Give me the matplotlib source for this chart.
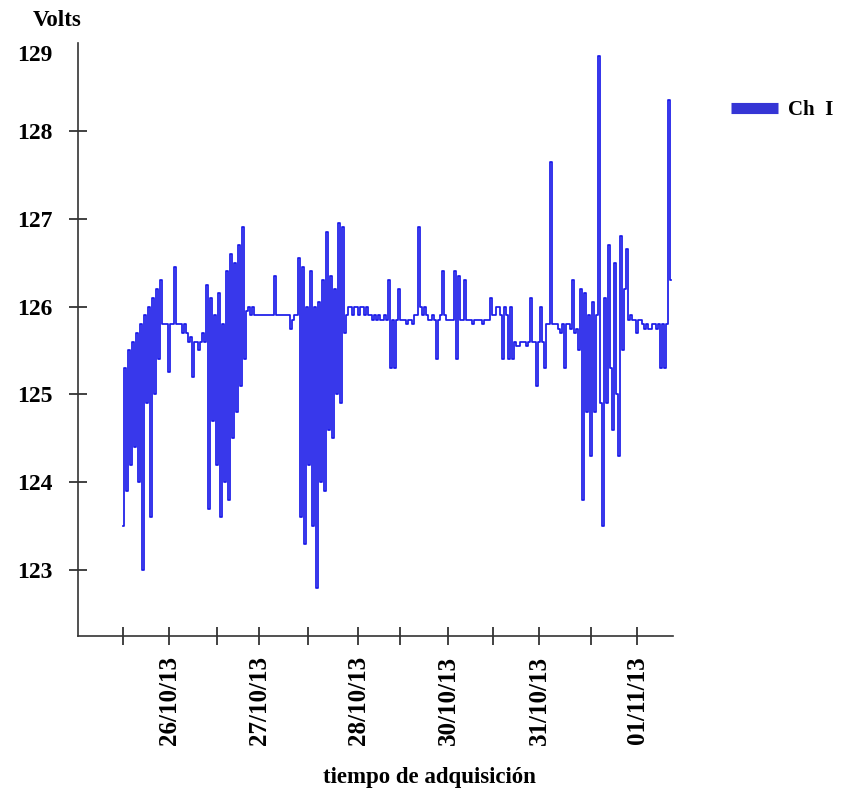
import matplotlib.pyplot as plt
import matplotlib.transforms as mtransforms
import numpy as np
from matplotlib.lines import Line2D

# Voltage readings, Ch I (one sample per ~2 px)
volts_day1 = [123.5, 125.3, 123.9, 125.5, 124.2, 125.6, 124.4, 125.7, 124.0, 125.8,
              123.0, 125.9, 124.9, 126.0, 123.6, 126.1, 125.0, 126.2, 125.4, 126.3]
volts_flat1 = [125.8, 125.8, 125.8, 125.25, 125.8, 125.8, 126.45, 125.8, 125.8, 125.8,
               125.7, 125.8, 125.7, 125.6, 125.65, 125.2, 125.6, 125.6, 125.5, 125.6, 125.7]
volts_day2 = [125.6, 126.25, 123.7, 126.1, 124.7, 125.9, 124.2, 126.15, 123.6, 125.8,
              124.0, 126.4, 123.8, 126.6, 124.5, 126.5, 124.8, 126.7, 125.1, 126.9, 125.4]
volts_flat2 = [125.95, 126.0, 125.9, 126.0, 125.9, 125.9, 125.9, 125.9, 125.9, 125.9,
               125.9, 125.9, 125.9, 125.9, 126.35, 125.9, 125.9, 125.9, 125.9, 125.9,
               125.9, 125.9, 125.75, 125.85, 125.9, 125.9]
volts_day3 = [126.55, 123.6, 126.45, 123.3, 126.0, 124.2, 126.4, 123.5, 126.0, 122.8,
              126.05, 124.0, 126.3, 123.9, 126.85, 124.6, 126.35, 124.5, 126.2, 125.0,
              126.95, 124.9, 126.9, 125.7]
volts_flat3 = [125.9, 126.0, 126.0, 125.9, 126.0, 126.0, 125.9, 126.0, 126.0, 125.9,
               126.0, 125.9, 125.9, 125.85, 125.9, 125.85, 125.9, 125.85, 125.85, 125.9,
               125.85, 126.3, 125.3, 125.85, 125.3, 125.85, 126.2, 125.85, 125.85, 125.85,
               125.8, 125.85, 125.85, 125.8, 125.9, 125.9, 126.9, 126.0, 125.9, 126.0,
               125.9, 125.85, 125.85, 125.9, 125.85, 125.4, 125.85, 125.9, 126.4, 125.9,
               125.85, 125.85, 125.85, 125.85, 126.4, 125.4, 126.35, 125.85, 125.85, 126.3,
               125.85, 125.85, 125.85, 125.8, 125.85, 125.85, 125.85, 125.85, 125.8, 125.85,
               125.85, 125.85, 126.1, 125.9, 125.9, 126.0, 126.0, 125.9, 125.4, 126.0,
               125.9, 125.4, 126.0, 125.4, 125.6, 125.55, 125.55, 125.6, 125.6, 125.6,
               125.55, 125.6, 126.1, 125.6, 125.6, 125.1, 125.6, 126.0, 125.6, 125.3,
               125.8, 125.8, 127.65, 125.8, 125.8, 125.8, 125.75, 125.7, 125.8, 125.3,
               125.8, 125.8, 125.75, 126.3, 125.7, 125.75, 125.5]
volts_day4 = [126.2, 123.8, 126.15, 124.8, 125.9, 124.3, 126.05, 124.8, 125.9, 128.85,
              124.9, 123.5, 126.1, 124.9, 126.7, 125.3, 124.6, 126.5, 125.0, 124.3,
              126.8, 125.5, 126.2, 126.65]
volts_flat4 = [125.85, 125.9, 125.85, 125.85, 125.7, 125.85, 125.85, 125.8, 125.75, 125.8,
               125.75, 125.75, 125.8, 125.8, 125.75, 125.8, 125.3, 125.8, 125.3, 125.8,
               128.35, 126.3]

volts = np.array(volts_day1 + volts_flat1 + volts_day2 + volts_flat2 + volts_day3
                 + volts_flat3 + volts_day4 + volts_flat4)
samples = np.arange(len(volts))

tick_pos = [0, 23, 47, 68, 92.5, 117.5, 138.5, 162.5, 185, 208, 234, 257]
tick_labels = ["", "26/10/13", "", "27/10/13", "", "28/10/13", "",
               "30/10/13", "", "31/10/13", "", "01/11/13"]
y_ticks = [123, 124, 125, 126, 127, 128, 129]

plt.rcParams["font.family"] = ["Liberation Serif", "DejaVu Serif"]
plt.rcParams["font.weight"] = "bold"

fig = plt.figure(figsize=(8.47, 7.98), dpi=100)
ax = fig.add_axes([78 / 847, 1 - 636 / 798, (673 - 78) / 847, (636 - 43) / 798])

ax.plot(samples, volts, drawstyle="steps-mid", color="#1a1ae8", lw=1.25)

ax.set_xlim(-22.5, 275)
ax.set_ylim(122.25, 129.0)
ax.set_xticks(tick_pos)
ax.set_xticklabels(tick_labels, rotation=90, fontsize=18, fontweight="bold")
ax.set_yticks(y_ticks)
ax.set_yticklabels([str(v) for v in y_ticks], fontsize=17, fontweight="bold")

for side in ["top", "right"]:
    ax.spines[side].set_visible(False)
for side in ["left", "bottom"]:
    ax.spines[side].set_color("#333333")
    ax.spines[side].set_linewidth(1.2)
ax.tick_params(axis="both", direction="inout", length=13, width=1.2, color="#222222")
ax.tick_params(axis="y", pad=12)
ax.tick_params(axis="x", pad=8)

# top label sits a little below the axis end, with no tick mark
top_tick = ax.yaxis.get_major_ticks()[-1]
top_tick.tick1line.set_visible(False)
top_tick.label1.set_transform(top_tick.label1.get_transform()
                              + mtransforms.ScaledTranslation(0, -10 / 100, fig.dpi_scale_trans))

fig.text(57 / 847, 1 - 20 / 798, "Volts", ha="center", va="center",
         fontsize=16.5, fontweight="bold")
fig.text(429 / 847, 1 - 778 / 798, "tiempo de adquisición", ha="center", va="center",
         fontsize=16.5, fontweight="bold")

handle = Line2D([0], [0], color="#3535d5", lw=8, solid_capstyle="butt")
fig.legend([handle], ["Ch  I"], loc="center left", bbox_to_anchor=(731 / 847, 1 - 110 / 798),
           frameon=False, handlelength=2.25, borderpad=0, borderaxespad=0,
           handletextpad=0.5, prop={"size": 15, "weight": "bold"})

fig.savefig("out.png", dpi=100)
